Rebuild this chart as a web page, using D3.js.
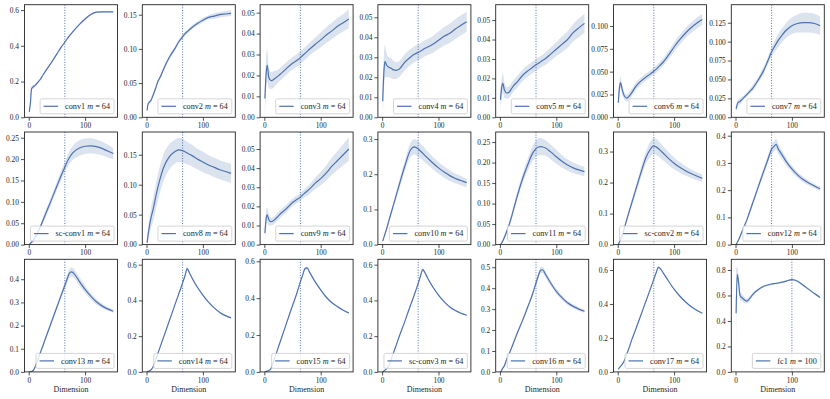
<!DOCTYPE html>
<html>
<head>
<meta charset="utf-8">
<script src="https://cdn.jsdelivr.net/npm/d3@7"></script>
<style>
  body { margin: 0; background: #fff; }
  svg text { font-family: "Liberation Serif", serif; fill: #262626; }
</style>
</head>
<body>
<svg id="chart" width="830" height="399" viewBox="0 0 830 399"></svg>
<script>
// sampled dimensions (x axis)
const dims = [1, 3, 5, 8, 12, 16, 20, 25, 30, 40, 50, 57, 64, 68, 72, 76, 80, 90, 100, 110, 120, 130, 140, 150];

const layerNames = ["conv1", "conv2", "conv3", "conv4", "conv5", "conv6", "conv7",
  "sc-conv1", "conv8", "conv9", "conv10", "conv11", "sc-conv2", "conv12",
  "conv13", "conv14", "conv15", "sc-conv3", "conv16", "conv17", "fc1"];
const mValues = [64, 64, 64, 64, 64, 64, 64, 64, 64, 64, 64, 64, 64, 64, 64, 64, 64, 64, 64, 64, 100];

const xDomain = [-7.5, 157.5];
const xTicks = [0, 100];
const yMax = [0.63, 0.1646, 0.0538, 0.0563, 0.0579, 0.1233, 0.1488,
  0.2634, 0.188, 0.0589, 0.32, 0.2745, 0.363, 0.4136,
  0.486, 0.63, 0.611, 0.63, 0.538, 0.663, 0.884];
const yStep = [0.2, 0.05, 0.01, 0.01, 0.01, 0.025, 0.025,
  0.05, 0.05, 0.01, 0.1, 0.05, 0.1, 0.1,
  0.1, 0.2, 0.2, 0.2, 0.1, 0.2, 0.2];
const yDecimals = [1, 2, 2, 2, 2, 3, 3, 2, 2, 2, 1, 2, 1, 1, 1, 1, 1, 1, 1, 1, 1];

// mean curve per layer
const means = [
  [0.03,0.08,0.16,0.17,0.18,0.195,0.21,0.235,0.26,0.305,0.355,0.39,0.42,0.438,0.455,0.47,0.485,0.52,0.55,0.575,0.588,0.59,0.59,0.59],
  [0.01,0.02,0.022,0.025,0.033,0.042,0.052,0.06,0.07,0.087,0.1,0.11,0.118,0.122,0.125,0.128,0.131,0.137,0.142,0.146,0.148,0.15,0.151,0.152],
  [0.009,0.02,0.025,0.019,0.0175,0.018,0.0188,0.0198,0.021,0.0235,0.0258,0.027,0.0285,0.0295,0.0305,0.0315,0.0325,0.0348,0.037,0.0393,0.0413,0.0435,0.0452,0.047],
  [0.008,0.022,0.028,0.026,0.025,0.0245,0.0237,0.0235,0.024,0.0275,0.030,0.0315,0.0325,0.033,0.0338,0.0345,0.035,0.0365,0.0385,0.0405,0.042,0.0442,0.046,0.0478],
  [0.009,0.015,0.0175,0.014,0.0125,0.0128,0.0145,0.0165,0.018,0.0215,0.024,0.0255,0.027,0.0277,0.0285,0.0293,0.030,0.0325,0.035,0.0375,0.040,0.0435,0.046,0.0483],
  [0.016,0.032,0.038,0.03,0.023,0.021,0.023,0.027,0.032,0.039,0.044,0.047,0.0505,0.0525,0.055,0.0575,0.06,0.068,0.077,0.085,0.092,0.098,0.103,0.107],
  [0.011,0.017,0.02,0.021,0.024,0.027,0.03,0.034,0.038,0.049,0.062,0.074,0.0865,0.092,0.097,0.102,0.106,0.115,0.121,0.124,0.125,0.125,0.124,0.121],
  [0.0,0.003,0.006,0.01,0.018,0.028,0.04,0.056,0.072,0.104,0.137,0.16,0.181,0.193,0.203,0.211,0.217,0.226,0.23,0.231,0.229,0.225,0.219,0.213],
  [0.003,0.018,0.03,0.045,0.06,0.078,0.095,0.113,0.128,0.146,0.155,0.158,0.157,0.155,0.153,0.151,0.149,0.143,0.138,0.133,0.129,0.125,0.122,0.119],
  [0.006,0.013,0.0155,0.013,0.012,0.0125,0.0135,0.015,0.0165,0.019,0.022,0.0235,0.0248,0.026,0.027,0.028,0.029,0.032,0.0345,0.0375,0.041,0.044,0.047,0.05],
  [0.01,0.02,0.03,0.045,0.068,0.09,0.112,0.14,0.168,0.222,0.268,0.278,0.272,0.266,0.26,0.253,0.247,0.232,0.218,0.206,0.196,0.188,0.182,0.176],
  [0.0,0.004,0.009,0.018,0.032,0.047,0.065,0.09,0.115,0.16,0.197,0.22,0.234,0.238,0.239,0.238,0.236,0.226,0.214,0.203,0.194,0.187,0.182,0.178],
  [0.0,0.008,0.016,0.03,0.055,0.08,0.105,0.135,0.165,0.225,0.28,0.305,0.318,0.315,0.31,0.303,0.296,0.278,0.262,0.249,0.238,0.229,0.221,0.214],
  [0.0,0.008,0.016,0.03,0.05,0.07,0.09,0.12,0.15,0.21,0.27,0.31,0.35,0.36,0.368,0.35,0.338,0.305,0.278,0.256,0.239,0.226,0.215,0.205],
  [0.0,0.0,0.002,0.006,0.025,0.052,0.079,0.112,0.146,0.213,0.28,0.327,0.373,0.4,0.425,0.432,0.425,0.39,0.356,0.327,0.303,0.285,0.272,0.262],
  [0.0,0.003,0.006,0.012,0.03,0.066,0.102,0.147,0.192,0.282,0.372,0.435,0.498,0.535,0.578,0.555,0.53,0.475,0.43,0.39,0.358,0.333,0.315,0.302],
  [0.0,0.002,0.004,0.008,0.02,0.055,0.09,0.135,0.18,0.27,0.36,0.42,0.49,0.525,0.56,0.565,0.543,0.49,0.445,0.405,0.375,0.353,0.335,0.32],
  [0.0,0.005,0.01,0.018,0.035,0.07,0.105,0.15,0.195,0.28,0.37,0.43,0.495,0.535,0.572,0.555,0.53,0.475,0.43,0.393,0.363,0.343,0.328,0.317],
  [0.0,0.008,0.018,0.03,0.06,0.085,0.11,0.145,0.18,0.245,0.315,0.365,0.425,0.458,0.485,0.488,0.47,0.425,0.385,0.355,0.33,0.313,0.3,0.29],
  [0.015,0.025,0.032,0.045,0.068,0.105,0.14,0.19,0.233,0.325,0.416,0.48,0.545,0.582,0.615,0.607,0.587,0.535,0.487,0.447,0.413,0.385,0.363,0.345],
  [0.46,0.765,0.72,0.6,0.58,0.565,0.555,0.575,0.605,0.645,0.672,0.682,0.69,0.693,0.695,0.698,0.702,0.713,0.724,0.712,0.68,0.648,0.615,0.585]
];

// half width of the shaded band per layer
const spreads = [
  [0.004,0.02,0.015,0.012,0.009,0.007,0.006,0.005,0.005,0.005,0.005,0.005,0.005,0.005,0.005,0.005,0.005,0.005,0.005,0.005,0.004,0.004,0.004,0.004],
  [0.002,0.003,0.003,0.003,0.003,0.003,0.003,0.003,0.003,0.003,0.003,0.003,0.003,0.003,0.003,0.003,0.003,0.003,0.003,0.003,0.004,0.004,0.004,0.004],
  [0.009,0.008,0.008,0.005,0.004,0.004,0.0035,0.003,0.003,0.003,0.003,0.003,0.003,0.003,0.003,0.003,0.003,0.0032,0.0035,0.0037,0.004,0.004,0.0042,0.0045],
  [0.009,0.009,0.008,0.006,0.005,0.005,0.0045,0.0042,0.004,0.004,0.004,0.004,0.004,0.004,0.004,0.004,0.004,0.0042,0.0044,0.0046,0.0048,0.005,0.005,0.005],
  [0.006,0.005,0.005,0.004,0.003,0.003,0.003,0.003,0.003,0.003,0.003,0.003,0.003,0.003,0.003,0.003,0.0032,0.0034,0.0036,0.004,0.0042,0.0045,0.0048,0.005],
  [0.008,0.007,0.006,0.005,0.004,0.004,0.004,0.004,0.004,0.004,0.004,0.004,0.004,0.004,0.004,0.004,0.0042,0.0045,0.005,0.0052,0.0055,0.0058,0.006,0.006],
  [0.003,0.004,0.004,0.004,0.003,0.003,0.003,0.003,0.004,0.004,0.005,0.005,0.006,0.007,0.008,0.009,0.009,0.01,0.011,0.012,0.013,0.013,0.013,0.012],
  [0.002,0.003,0.004,0.005,0.006,0.006,0.006,0.007,0.008,0.009,0.01,0.011,0.012,0.013,0.015,0.016,0.017,0.018,0.018,0.018,0.017,0.016,0.015,0.013],
  [0.003,0.01,0.014,0.017,0.02,0.021,0.022,0.022,0.022,0.021,0.02,0.02,0.02,0.019,0.019,0.018,0.018,0.017,0.017,0.016,0.016,0.016,0.016,0.016],
  [0.005,0.004,0.004,0.003,0.002,0.002,0.002,0.002,0.002,0.002,0.002,0.002,0.002,0.002,0.0022,0.0024,0.0025,0.003,0.0035,0.004,0.0045,0.005,0.0055,0.006],
  [0.003,0.004,0.005,0.006,0.007,0.008,0.009,0.01,0.012,0.015,0.02,0.022,0.022,0.021,0.02,0.02,0.019,0.018,0.017,0.016,0.015,0.014,0.013,0.012],
  [0.002,0.003,0.004,0.005,0.006,0.007,0.008,0.009,0.01,0.012,0.015,0.018,0.02,0.021,0.021,0.02,0.019,0.018,0.017,0.015,0.014,0.013,0.012,0.012],
  [0.002,0.003,0.004,0.005,0.006,0.007,0.008,0.01,0.012,0.016,0.02,0.024,0.026,0.026,0.025,0.024,0.023,0.021,0.019,0.017,0.015,0.014,0.013,0.012],
  [0.002,0.003,0.003,0.004,0.005,0.006,0.007,0.008,0.009,0.011,0.013,0.015,0.017,0.019,0.02,0.019,0.017,0.014,0.012,0.011,0.01,0.009,0.008,0.008],
  [0.002,0.002,0.003,0.004,0.005,0.006,0.007,0.008,0.008,0.009,0.01,0.012,0.015,0.017,0.02,0.02,0.02,0.018,0.016,0.014,0.012,0.01,0.008,0.007],
  [0.002,0.002,0.002,0.003,0.003,0.003,0.003,0.003,0.004,0.004,0.004,0.005,0.006,0.007,0.01,0.008,0.006,0.005,0.004,0.004,0.003,0.003,0.003,0.003],
  [0.002,0.002,0.002,0.003,0.003,0.003,0.003,0.003,0.004,0.004,0.004,0.005,0.006,0.007,0.009,0.008,0.006,0.005,0.004,0.004,0.003,0.003,0.003,0.003],
  [0.002,0.002,0.002,0.003,0.003,0.003,0.003,0.003,0.004,0.004,0.004,0.005,0.006,0.007,0.009,0.008,0.006,0.005,0.004,0.004,0.003,0.003,0.003,0.003],
  [0.002,0.003,0.003,0.004,0.005,0.005,0.006,0.006,0.007,0.008,0.009,0.01,0.012,0.014,0.016,0.016,0.015,0.013,0.012,0.011,0.01,0.009,0.008,0.008],
  [0.002,0.002,0.002,0.003,0.003,0.003,0.003,0.003,0.004,0.004,0.004,0.005,0.006,0.007,0.009,0.008,0.006,0.005,0.004,0.004,0.003,0.003,0.003,0.003],
  [0.35,0.06,0.045,0.035,0.028,0.024,0.02,0.016,0.013,0.01,0.008,0.007,0.007,0.007,0.007,0.007,0.007,0.007,0.007,0.007,0.007,0.007,0.007,0.007]
];

const blue = "#4c72b0";
const svg = d3.select("#chart");
const n_cols = 7;
const col_left = 24.5, col_pitch = 117.8, panel_w = 93;
const row_top = 4.7, row_pitch = 127.3, panel_h = 112.6;
const n_rows = Math.ceil(layerNames.length / n_cols);

layerNames.forEach((name, i) => {
  const col = i % n_cols, row = Math.floor(i / n_cols);
  const g = svg.append("g")
    .attr("transform", `translate(${col_left + col * col_pitch},${row_top + row * row_pitch})`);

  const x = d3.scaleLinear().domain(xDomain).range([0, panel_w]);
  const y = d3.scaleLinear().domain([0, yMax[i]]).range([panel_h, 0]);

  const clip_id = "clip" + i;
  g.append("clipPath").attr("id", clip_id)
    .append("rect").attr("width", panel_w).attr("height", panel_h);

  const pts = dims.map((d, k) => ({ d: d, m: means[i][k], s: spreads[i][k] }));
  const plot = g.append("g").attr("clip-path", `url(#${clip_id})`);

  plot.append("path")
    .datum(pts)
    .attr("fill", blue)
    .attr("fill-opacity", 0.2)
    .attr("d", d3.area()
      .curve(d3.curveMonotoneX)
      .x(p => x(p.d))
      .y0(p => y(p.m - p.s))
      .y1(p => y(p.m + p.s)));

  plot.append("line")
    .attr("x1", x(mValues[i])).attr("x2", x(mValues[i]))
    .attr("y1", 0).attr("y2", panel_h)
    .attr("stroke", blue)
    .attr("stroke-width", 1)
    .attr("stroke-dasharray", "1,1.6");

  plot.append("path")
    .datum(pts)
    .attr("fill", "none")
    .attr("stroke", blue)
    .attr("stroke-width", 1.2)
    .attr("d", d3.line()
      .curve(d3.curveMonotoneX)
      .x(p => x(p.d))
      .y(p => y(p.m)));

  // axes
  const y_ticks = d3.range(0, yMax[i] + 1e-9, yStep[i]);
  const y_axis = g.append("g")
    .call(d3.axisLeft(y).tickValues(y_ticks).tickSize(3.5).tickPadding(2)
      .tickFormat(d3.format(`.${yDecimals[i]}f`)));
  const x_axis = g.append("g")
    .attr("transform", `translate(0,${panel_h})`)
    .call(d3.axisBottom(x).tickValues(xTicks).tickSize(3.5).tickPadding(2));
  [y_axis, x_axis].forEach(a => {
    a.select(".domain").remove();
    a.selectAll("line").attr("stroke", "#262626").attr("stroke-width", 0.8);
    a.selectAll("text").attr("font-size", 7.4).attr("font-family", "Liberation Serif").attr("fill", "#262626");
  });

  g.append("rect")
    .attr("width", panel_w).attr("height", panel_h)
    .attr("fill", "none")
    .attr("stroke", "#262626")
    .attr("stroke-width", 0.9);

  if (row === n_rows - 1) {
    g.append("text")
      .attr("x", panel_w / 2)
      .attr("y", panel_h + 20)
      .attr("text-anchor", "middle")
      .attr("font-size", 8)
      .text("Dimension");
  }

  // legend
  const legend = g.append("g");
  const box = legend.append("rect")
    .attr("rx", 1.5)
    .attr("fill", "#fff")
    .attr("fill-opacity", 0.8)
    .attr("stroke", "#cccccc")
    .attr("stroke-width", 0.8);
  const label = legend.append("text")
    .attr("font-size", 8.2)
    .attr("y", 0);
  label.append("tspan").text(name + " ");
  label.append("tspan").attr("font-style", "italic").text("m");
  label.append("tspan").text(" = " + mValues[i]);
  const tw = label.node().getComputedTextLength();
  const bw = 25 + tw + 4, bh = 15;
  const bx = panel_w - 3.5 - bw, by = panel_h - 3.5 - bh;
  box.attr("x", bx).attr("y", by).attr("width", bw).attr("height", bh);
  legend.append("line")
    .attr("x1", bx + 3.5).attr("x2", bx + 18)
    .attr("y1", by + bh / 2).attr("y2", by + bh / 2)
    .attr("stroke", blue).attr("stroke-width", 1.2);
  label.attr("x", bx + 25).attr("y", by + bh / 2 + 2.8);
  label.selectAll("tspan").attr("x", null);
});
</script>
</body>
</html>
